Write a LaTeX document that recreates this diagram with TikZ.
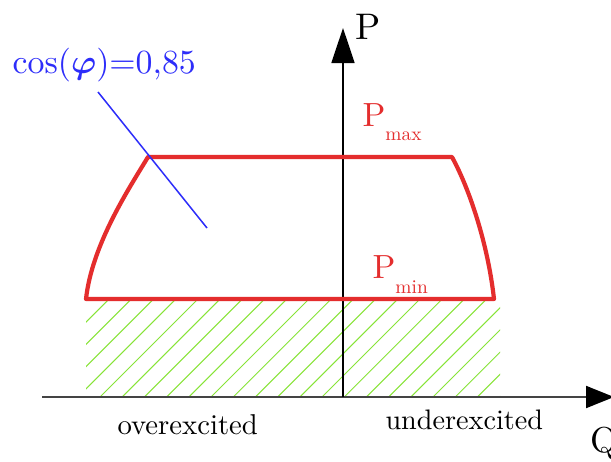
\documentclass[tikz,border=0pt]{standalone}
\usepackage{amsmath}
\usetikzlibrary{arrows.meta}
\definecolor{cred}{RGB}{228,45,45}
\definecolor{cblue}{RGB}{45,45,250}
\definecolor{cgreen}{RGB}{135,228,55}
\definecolor{caxis}{RGB}{68,68,68}
\begin{document}
\begin{tikzpicture}[x=1pt,y=-1pt,
  lbl/.style={inner sep=0pt,anchor=base west},
  region/.style={draw=cred,line width=4.2pt,line join=round},
  hatchline/.style={draw=cgreen,line width=1pt},
  axisline/.style={line width=2pt}]
\useasboundingbox (0,0) rectangle (611,461);
\fill[white] (0,0) rectangle (611,461);
% hatch
\begin{scope}
\clip (86,299) rectangle (500,397);
\foreach \k in {-6,...,19}{
  \draw[hatchline] ({100+22.2*\k},397) -- ({198+22.2*\k},299);
}
\end{scope}
% axes
\coordinate (O) at (343,397);
\coordinate (Qend) at (614,397);
\coordinate (Qstart) at (42,397);
\coordinate (Pend) at (343,28);
\draw[axisline,caxis,-{Triangle[length=28pt,width=22pt,color=black]}] (Qstart) -- (Qend);
\draw[line width=1.5pt,black,-{Triangle[length=35pt,width=23pt]}] (O) -- (Pend);
% region
\coordinate (BL) at (86,299);
\coordinate (TL) at (148,157);
\coordinate (TR) at (452,157);
\coordinate (BR) at (494,299);
\draw[region] (BL) .. controls (92,245) and (128,190) .. (TL) -- (TR)
  .. controls (470,190) and (488,245) .. (BR) -- cycle;
% cos phi
\coordinate (c1) at (98,92);
\coordinate (c2) at (207,228);
\draw[cblue,line width=1.5pt] (c1) -- (c2);
\node[lbl,text=cblue,scale=3.38] (cosl) at (12,73) {cos($\boldsymbol{\varphi}$)=0,85};
% labels
\node[lbl,scale=3.7] (Pl) at (355,39) {P};
\node[lbl,scale=3.6] (Ql) at (590,452) {Q};
\node[lbl,text=cred,scale=3.35] (Pmax) at (362,126) {P\raisebox{-4.2pt}{\scalebox{0.58}{max}}};
\node[lbl,text=cred,scale=3.35] (Pmin) at (372,278) {P\raisebox{-4.5pt}{\scalebox{0.58}{min}}};
\node[lbl,scale=2.87] (over) at (117,434) {overexcited};
\node[lbl,scale=2.82] (under) at (385,429) {underexcited};
\end{tikzpicture}
\end{document}
